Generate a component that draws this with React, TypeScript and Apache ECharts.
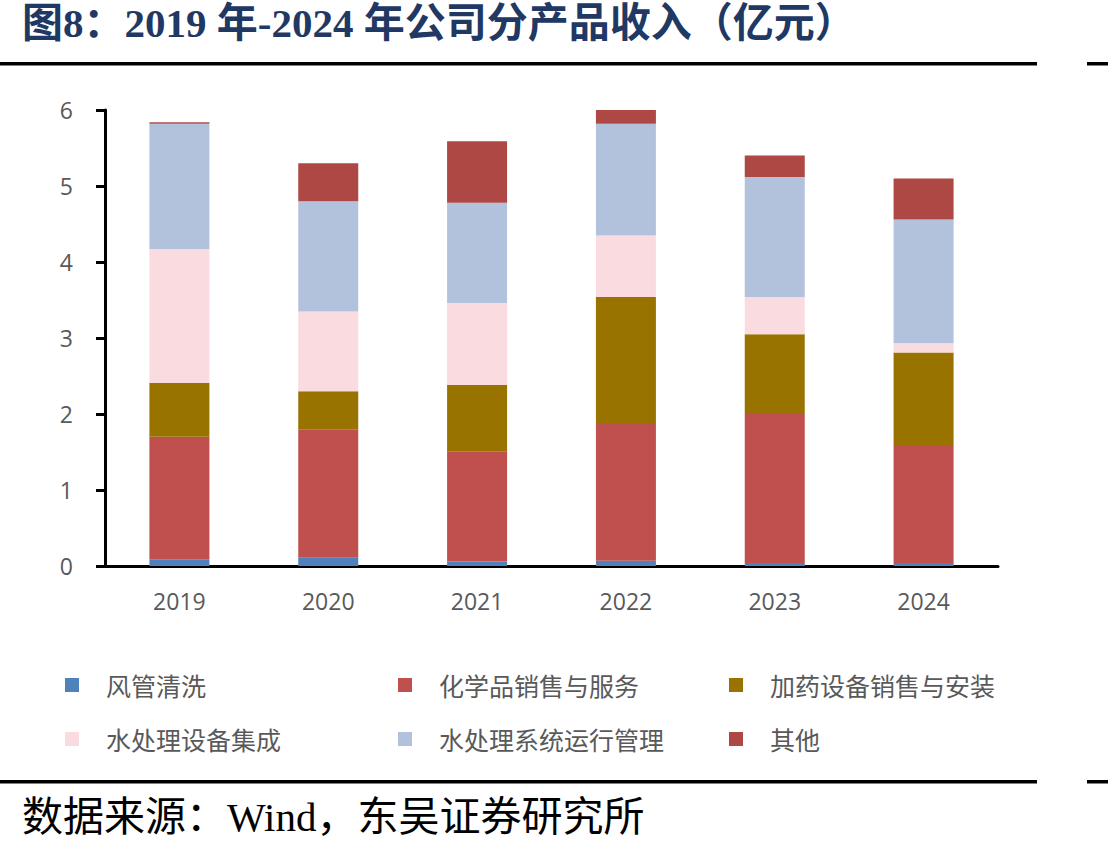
import React, { useEffect, useRef } from "react";
import * as echarts from "echarts";

const categories = ["2019", "2020", "2021", "2022", "2023", "2024"];
const seriesNames = [
  "风管清洗",
  "化学品销售与服务",
  "加药设备销售与安装",
  "水处理设备集成",
  "水处理系统运行管理",
  "其他",
];
const ductCleaning = [0.09, 0.11, 0.06, 0.07, 0.04, 0.04];
const chemicals = [1.61, 1.69, 1.45, 1.81, 1.96, 1.54];
const dosingEquipment = [0.71, 0.5, 0.87, 1.66, 1.05, 1.23];
const equipmentIntegration = [1.76, 1.05, 1.08, 0.81, 0.49, 0.12];
const operationManagement = [1.65, 1.45, 1.32, 1.47, 1.58, 1.63];
const others = [0.02, 0.5, 0.81, 0.18, 0.28, 0.54];
const yTicks = [0, 1, 2, 3, 4, 5, 6];

const seriesData = [
  ductCleaning,
  chemicals,
  dosingEquipment,
  equipmentIntegration,
  operationManagement,
  others,
];
const colors = ["#4F81BD", "#C0504D", "#997300", "#F9DBE0", "#B3C2DC", "#AD4845"];

const legendPos = [
  { left: 60, top: 665 },
  { left: 393, top: 665 },
  { left: 724, top: 665 },
  { left: 60, top: 719 },
  { left: 393, top: 719 },
  { left: 724, top: 719 },
];

export default function App() {
  const ref = useRef<HTMLDivElement>(null);
  useEffect(() => {
    if (!ref.current) return;
    const chart = echarts.init(ref.current, undefined, { renderer: "svg" });
    const option: any = {
      animation: false,
      backgroundColor: "#ffffff",
      grid: { left: 105, top: 110, width: 893, height: 456, containLabel: false },
      xAxis: {
        type: "category",
        data: categories,
        axisLine: { lineStyle: { color: "#000", width: 3 } },
        axisTick: { show: false },
        axisLabel: {
          color: "#595959",
          fontSize: 23,
          margin: 23,
          fontFamily: "'Open Sans', 'Noto Sans', sans-serif",
        },
      },
      yAxis: {
        type: "value",
        min: yTicks[0],
        max: yTicks[yTicks.length - 1],
        interval: 1,
        splitLine: { show: false },
        axisLine: { show: true, lineStyle: { color: "#000", width: 3 } },
        axisTick: { show: true, length: 9, lineStyle: { color: "#000", width: 3 } },
        axisLabel: {
          color: "#595959",
          fontSize: 23,
          margin: 32,
          fontFamily: "'Open Sans', 'Noto Sans', sans-serif",
        },
      },
      legend: seriesNames.map((name, i) => ({
        data: [name],
        left: legendPos[i].left,
        top: legendPos[i].top,
        icon: "rect",
        itemWidth: 14,
        itemHeight: 14,
        selectedMode: false,
        textStyle: {
          color: "#595959",
          fontSize: 25,
          lineHeight: 30,
          padding: [0, 0, 0, 22],
          fontFamily: "'Noto Sans CJK SC', sans-serif",
        },
      })),
      series: seriesNames.map((name, i) => ({
        name,
        type: "bar",
        stack: "total",
        barWidth: 60,
        data: seriesData[i],
        itemStyle: { color: colors[i] },
      })),
      graphic: [
        {
          type: "text",
          left: 22,
          top: 2,
          style: {
            text: "图8：2019 年-2024 年公司分产品收入（亿元）",
            fill: "#1F3864",
            fontSize: 41,
            fontWeight: "bold",
            fontFamily: "'Liberation Serif', 'Noto Sans CJK SC', serif",
          },
        },
        { type: "rect", shape: { x: 0, y: 62, width: 1037, height: 3.5 }, style: { fill: "#000" } },
        { type: "rect", shape: { x: 1087, y: 62, width: 21, height: 3.5 }, style: { fill: "#000" } },
        { type: "rect", shape: { x: 0, y: 780, width: 1037, height: 3.5 }, style: { fill: "#000" } },
        { type: "rect", shape: { x: 1087, y: 780, width: 21, height: 3.5 }, style: { fill: "#000" } },
        {
          type: "text",
          left: 22,
          top: 796,
          style: {
            text: "数据来源：Wind，东吴证券研究所",
            fill: "#000",
            fontSize: 41,
            fontFamily: "'Liberation Serif', 'Noto Sans CJK SC', serif",
          },
        },
      ],
    };
    chart.setOption(option);
    return () => chart.dispose();
  }, []);
  return (
    <div
      ref={ref}
      style={{ position: "fixed", left: 0, top: 0, width: 1108, height: 856, background: "#fff" }}
    />
  );
}
